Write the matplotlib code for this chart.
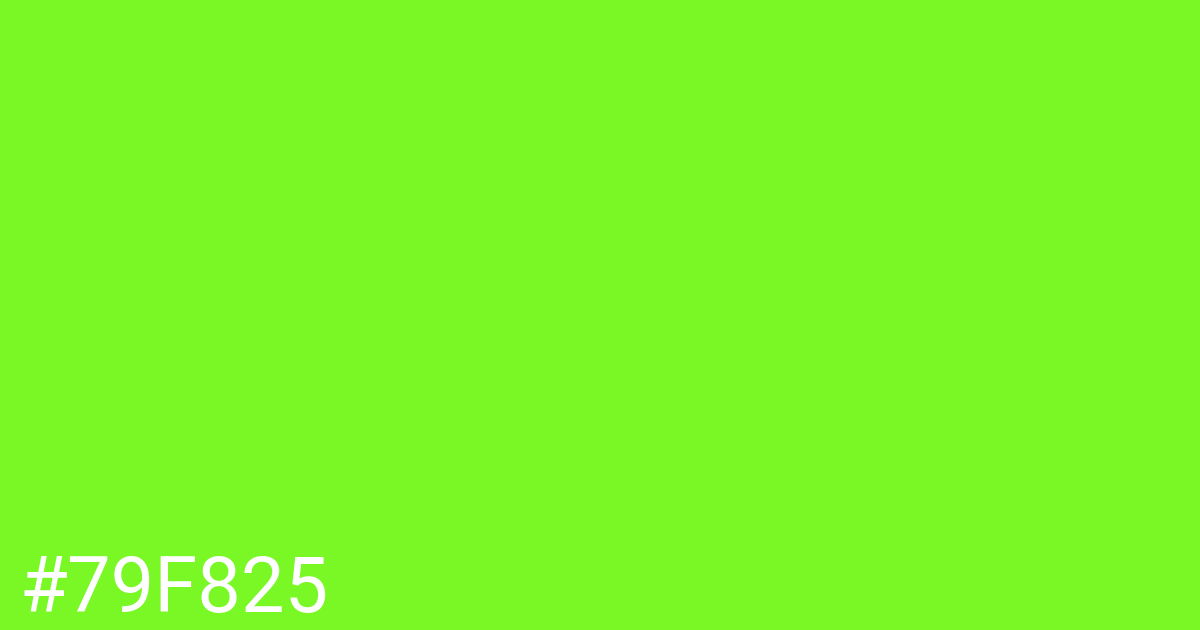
import matplotlib
matplotlib.use("Agg")
import matplotlib.pyplot as plt

bg_color = "#79F825"
label = "#79F825"

fig = plt.figure(figsize=(12, 6.3), dpi=100)
fig.patch.set_facecolor(bg_color)
fig.text(19 / 1200, 18 / 630, label, color="white", family=["Roboto", "DejaVu Sans"],
         fontsize=56, ha="left", va="baseline")
fig.savefig("out.png", dpi=100, facecolor=bg_color)
